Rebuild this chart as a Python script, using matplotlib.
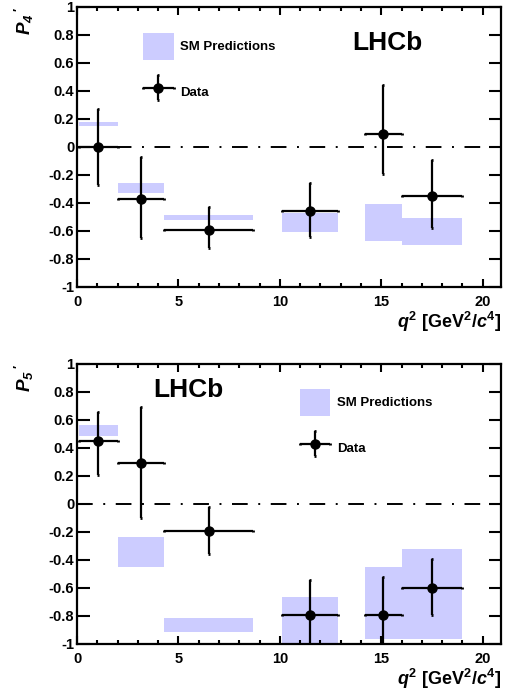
import numpy as np
import matplotlib
matplotlib.use("Agg")
import matplotlib.pyplot as plt
from matplotlib.patches import Patch
from matplotlib.legend_handler import HandlerErrorbar
from matplotlib.ticker import MultipleLocator

plt.rcParams['font.family'] = ['Liberation Sans', 'DejaVu Sans']
plt.rcParams['font.weight'] = 'bold'
plt.rcParams['mathtext.fontset'] = 'custom'
plt.rcParams['mathtext.rm'] = 'Liberation Sans:bold'
plt.rcParams['mathtext.bf'] = 'Liberation Sans:bold'
plt.rcParams['mathtext.it'] = 'Liberation Sans:italic:bold'
plt.rcParams['mathtext.sf'] = 'Liberation Sans:italic'
plt.rcParams['lines.scale_dashes'] = False

# q2 binning and mean q2 of each bin
bin_lo = np.array([0.1, 2.0, 4.3, 10.09, 14.18, 16.0])
bin_hi = np.array([2.0, 4.3, 8.68, 12.86, 16.0, 19.0])
q2_mean = np.array([1.05, 3.15, 6.5, 11.5, 15.1, 17.5])

# P4' measurement
p4 = np.array([0.00, -0.37, -0.59, -0.46, 0.09, -0.35])
p4_up = np.array([0.27, 0.30, 0.16, 0.20, 0.35, 0.26])
p4_dn = np.array([0.27, 0.28, 0.13, 0.18, 0.28, 0.23])
p4_sm_lo = np.array([0.15, -0.33, -0.52, -0.61, -0.675, -0.70])
p4_sm_hi = np.array([0.18, -0.255, -0.485, -0.47, -0.41, -0.51])

# P5' measurement
p5 = np.array([0.45, 0.29, -0.19, -0.79, -0.79, -0.60])
p5_up = np.array([0.21, 0.40, 0.17, 0.25, 0.27, 0.21])
p5_dn = np.array([0.24, 0.39, 0.17, 0.25, 0.27, 0.19])
p5_sm_lo = np.array([0.485, -0.45, -0.915, -1.0, -0.965, -0.965])
p5_sm_hi = np.array([0.565, -0.235, -0.815, -0.665, -0.45, -0.32])

box_color = '#ccccff'

fig = plt.figure(figsize=(5.09, 6.92), dpi=100)
ax_top = fig.add_axes([0.1513, 0.5853, 0.833, 0.4046])
ax_bot = fig.add_axes([0.1513, 0.0694, 0.833, 0.4046])


def draw_panel(ax, val, up, dn, sm_lo, sm_hi, ylab, lhcb_xy, leg_xy):
    ax.bar(bin_lo, sm_hi - sm_lo, width=bin_hi - bin_lo, bottom=sm_lo,
           align='edge', color=box_color, linewidth=0, zorder=1,
           label='SM Predictions')
    ax.axhline(0, color='black', lw=1.4, dashes=(11.3, 7.6, 1.4, 7.6),
               dash_capstyle='butt', zorder=2)
    eb = ax.errorbar(q2_mean, val, yerr=[dn, up],
                     xerr=[q2_mean - bin_lo, bin_hi - q2_mean],
                     fmt='o', color='black', ms=6.5, elinewidth=1.6,
                     capsize=0.9, capthick=2.0, zorder=3, label='Data')

    ax.set_xlim(0, 20.9)
    ax.set_ylim(-1, 1)
    ax.xaxis.set_major_locator(MultipleLocator(5))
    ax.xaxis.set_minor_locator(MultipleLocator(1))
    ticks = np.arange(-1, 1.01, 0.2)
    ax.set_yticks(ticks)
    ax.set_yticklabels(['%g' % round(t, 1) if abs(t) > 1e-9 else '0' for t in ticks])
    ax.tick_params(axis='both', which='both', direction='in', top=True,
                   right=True, width=1.5, labelsize=10.5)
    ax.tick_params(axis='x', which='major', length=6, pad=6)
    ax.tick_params(axis='x', which='minor', length=3)
    ax.tick_params(axis='y', which='major', length=9, pad=2)
    for sp in ax.spines.values():
        sp.set_linewidth(1.6)

    ax.text(1.0, -0.125, r'$q^{2}$ [GeV$^{2}$/$c^{4}$]', transform=ax.transAxes,
            ha='right', va='center', fontsize=13, fontweight='bold')
    ax.text(-0.125, 1.0, ylab, transform=ax.transAxes, rotation=90,
            ha='center', va='top', fontsize=13.5)
    ax.text(lhcb_xy[0], lhcb_xy[1], 'LHCb', transform=ax.transAxes,
            ha='left', va='center', fontsize=19, fontweight='bold')

    handles = [Patch(color=box_color, linewidth=0), eb]
    ax.legend(handles, ['SM Predictions', 'Data'], loc='upper left',
              bbox_to_anchor=leg_xy, frameon=False, fontsize=9.5,
              borderpad=0, borderaxespad=0, handlelength=2.3,
              handleheight=2.75, handletextpad=0.5, labelspacing=1.45,
              handler_map={type(eb): HandlerErrorbar(xerr_size=1.15, yerr_size=0.95)})


draw_panel(ax_top, p4, p4_up, p4_dn, p4_sm_lo, p4_sm_hi,
           r"$\mathsf{P}_{\mathsf{4}}\,{}^{\prime}$", (0.649, 0.871), (0.156, 0.907))
draw_panel(ax_bot, p5, p5_up, p5_dn, p5_sm_lo, p5_sm_hi,
           r"$\mathsf{P}_{\mathsf{5}}\,{}^{\prime}$", (0.179, 0.907), (0.526, 0.911))

fig.savefig('out.png', dpi=100)
